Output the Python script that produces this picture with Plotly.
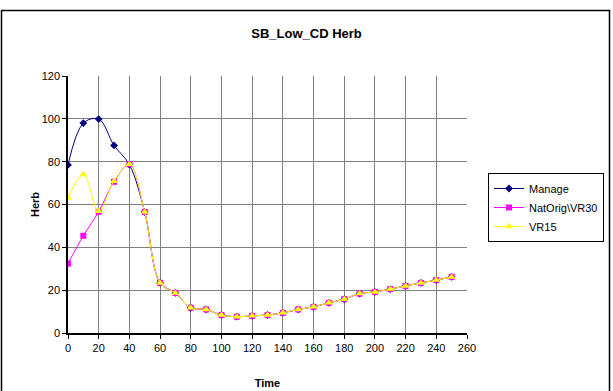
import plotly.graph_objects as go

time = [0, 10, 20, 30, 40, 50, 60, 70, 80, 90, 100, 110, 120, 130, 140, 150,
        160, 170, 180, 190, 200, 210, 220, 230, 240, 250]
tail = [56.5, 23.4, 18.7, 11.8, 11.0, 8.4, 7.6, 8.0, 8.4, 9.4, 11.0,
        12.2, 14.1, 15.8, 18.4, 19.2, 20.5, 22.0, 23.4, 24.7, 26.2]
manage = [78.5, 98.0, 99.9, 87.6, 78.6] + tail
natorig = [32.4, 45.4, 56.6, 70.6, 78.8] + tail
vr15 = [63.1, 74.0, 56.8, 70.9, 78.8] + tail

x_ticks = list(range(0, 261, 20))
y_ticks = list(range(0, 121, 20))

FONT = "Liberation Sans, Arial, sans-serif"

fig = go.Figure()
fig.add_trace(go.Scatter(x=time, y=manage, name="Manage", mode="lines+markers",
                         line=dict(color="#000080", width=1, shape="spline", smoothing=1.0),
                         marker=dict(symbol="diamond", size=6, color="#000080")))
fig.add_trace(go.Scatter(x=time, y=natorig, name="NatOrig\\VR30", mode="lines+markers",
                         line=dict(color="#FF00FF", width=1, shape="spline", smoothing=1.0),
                         marker=dict(symbol="square", size=6, color="#FF00FF")))
fig.add_trace(go.Scatter(x=time, y=vr15, name="VR15", mode="lines+markers",
                         line=dict(color="#FFFF00", width=1, shape="spline", smoothing=1.0),
                         marker=dict(symbol="triangle-up", size=7, color="#FFFF00")))

W, H = 613, 391
L, R, T, B = 68, 146, 76, 58
pw = W - L - R
ph = H - T - B

def px(xp):
    return (xp - L) / pw

def py(yp):
    return (H - B - yp) / ph

fig.update_layout(
    width=W, height=H,
    margin=dict(l=L, r=R, t=T, b=B, autoexpand=False),
    paper_bgcolor="white", plot_bgcolor="white",
    font=dict(family=FONT, size=11, color="#000000"),
    title=dict(text="<b>SB_Low_CD Herb</b>", x=0.5, xref="container", xanchor="center",
               y=1 - 33 / H, yanchor="middle", font=dict(size=13, family=FONT)),
    xaxis=dict(range=[0, 260], tickvals=x_ticks, ticks="outside", ticklen=4,
               tickcolor="black", showline=True, linecolor="black", linewidth=1.5,
               showgrid=True, gridcolor="#808080", gridwidth=1, zeroline=False,
               title=dict(text="<b>Time</b>", font=dict(size=11), standoff=26),
               tickfont=dict(size=11), automargin=False),
    yaxis=dict(range=[0, 120], tickvals=y_ticks, ticks="outside", ticklen=4,
               tickcolor="black", showline=True, linecolor="black", linewidth=1.5,
               showgrid=True, gridcolor="#808080", gridwidth=1, zeroline=False,
               title=dict(text="<b>Herb</b>", font=dict(size=11), standoff=0),
               tickfont=dict(size=11), automargin=False),
    legend=dict(xref="container", yref="container",
                x=488 / W, y=1 - 173 / H, xanchor="left", yanchor="top",
                bordercolor="black", borderwidth=1, bgcolor="white",
                font=dict(size=11), tracegroupgap=0),
    showlegend=True,
)

fig.add_shape(type="rect", xref="paper", yref="paper",
              x0=px(1.5), x1=px(609.5), y0=py(392), y1=py(10.5),
              line=dict(color="black", width=1.5), fillcolor="rgba(0,0,0,0)", layer="below")

fig.write_html("out.html", config={"displayModeBar": False},
               post_script="document.body.style.margin='0';document.body.style.overflow='hidden';")
